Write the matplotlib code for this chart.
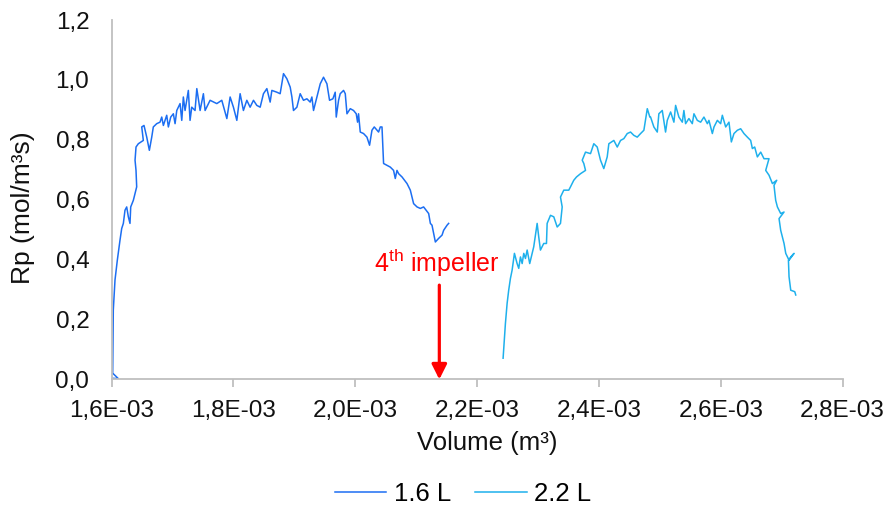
import matplotlib.pyplot as plt
import numpy as np
from matplotlib.ticker import FuncFormatter, MultipleLocator

plt.rcParams['font.family'] = ['Liberation Sans', 'DejaVu Sans']
plt.rcParams['mathtext.fontset'] = 'custom'
plt.rcParams['mathtext.rm'] = 'Liberation Sans'

# volumes in 1E-03 m3, rates in mol/m3s
vol_16 = [1.6000, 1.6110, 1.6018, 1.6028, 1.6056, 1.6094, 1.6138, 1.6166, 1.6193, 1.6220,
          1.6248, 1.6275, 1.6302, 1.6314, 1.6357, 1.6385, 1.6412, 1.6401, 1.6385, 1.6401,
          1.6439, 1.6521, 1.6495, 1.6532, 1.6577, 1.6620, 1.6659, 1.6685, 1.6741, 1.6795,
          1.6823, 1.6850, 1.6905, 1.6932, 1.6971, 1.7014, 1.7042, 1.7070, 1.7124, 1.7152,
          1.7178, 1.7206, 1.7260, 1.7288, 1.7316, 1.7370, 1.7399, 1.7453, 1.7507, 1.7535,
          1.7617, 1.7727, 1.7809, 1.7892, 1.7946, 1.8000, 1.8056, 1.8110, 1.8164, 1.8220,
          1.8274, 1.8329, 1.8384, 1.8439, 1.8493, 1.8549, 1.8603, 1.8631, 1.8713, 1.8767,
          1.8822, 1.8877, 1.8932, 1.8960, 1.8986, 1.9042, 1.9096, 1.9150, 1.9206, 1.9260,
          1.9288, 1.9315, 1.9371, 1.9425, 1.9479, 1.9535, 1.9578, 1.9633, 1.9671, 1.9688,
          1.9726, 1.9753, 1.9808, 1.9836, 1.9864, 1.9918, 1.9972, 2.0016, 2.0038, 2.0054,
          2.0082, 2.0136, 2.0192, 2.0235, 2.0274, 2.0312, 2.0357, 2.0383, 2.0411, 2.0439,
          2.0465, 2.0521, 2.0575, 2.0629, 2.0657, 2.0685, 2.0712, 2.0768, 2.0850, 2.0904,
          2.0932, 2.0958, 2.1014, 2.1068, 2.1122, 2.1205, 2.1233, 2.1260, 2.1287, 2.1315,
          2.1369, 2.1425, 2.1451, 2.1507, 2.1533]
rp_16 = [0.004, 0.003, 0.021, 0.232, 0.332, 0.398, 0.465, 0.504, 0.521, 0.565,
         0.576, 0.543, 0.521, 0.576, 0.598, 0.621, 0.643, 0.698, 0.732, 0.776,
         0.787, 0.798, 0.843, 0.848, 0.809, 0.765, 0.809, 0.843, 0.854, 0.859,
         0.876, 0.848, 0.882, 0.843, 0.876, 0.887, 0.854, 0.898, 0.921, 0.865,
         0.943, 0.898, 0.965, 0.865, 0.909, 0.898, 0.971, 0.898, 0.954, 0.898,
         0.932, 0.921, 0.932, 0.871, 0.943, 0.909, 0.865, 0.954, 0.898, 0.932,
         0.909, 0.932, 0.915, 0.909, 0.954, 0.971, 0.926, 0.965, 0.959, 0.954,
         1.021, 1.004, 0.976, 0.943, 0.898, 0.909, 0.954, 0.932, 0.937, 0.926,
         0.943, 0.898, 0.943, 0.987, 1.009, 0.987, 0.932, 0.937, 0.959, 0.876,
         0.932, 0.954, 0.965, 0.954, 0.887, 0.904, 0.898, 0.887, 0.859, 0.887,
         0.826, 0.821, 0.809, 0.782, 0.832, 0.843, 0.832, 0.826, 0.843, 0.843,
         0.721, 0.715, 0.709, 0.698, 0.671, 0.698, 0.687, 0.676, 0.654, 0.632,
         0.609, 0.587, 0.576, 0.571, 0.576, 0.554, 0.521, 0.515, 0.487, 0.459,
         0.471, 0.482, 0.498, 0.515, 0.521]

vol_22 = [2.2427, 2.2465, 2.2493, 2.2519, 2.2547, 2.2575, 2.2613, 2.2657, 2.2684, 2.2712,
          2.2740, 2.2766, 2.2794, 2.2822, 2.2864, 2.2904, 2.2930, 2.2986, 2.3012, 2.3040,
          2.3094, 2.3139, 2.3150, 2.3205, 2.3259, 2.3315, 2.3369, 2.3397, 2.3369, 2.3423,
          2.3505, 2.3533, 2.3587, 2.3632, 2.3698, 2.3780, 2.3752, 2.3726, 2.3780, 2.3862,
          2.3916, 2.3972, 2.4026, 2.4080, 2.4136, 2.4163, 2.4245, 2.4301, 2.4355, 2.4409,
          2.4465, 2.4519, 2.4573, 2.4629, 2.4684, 2.4738, 2.4794, 2.4836,
          2.4848, 2.4902, 2.4958, 2.4984, 2.5040, 2.5094, 2.5122, 2.5177, 2.5231, 2.5259,
          2.5313, 2.5369, 2.5395, 2.5423, 2.5477, 2.5533, 2.5560, 2.5615, 2.5670, 2.5724,
          2.5780, 2.5806, 2.5862, 2.5889, 2.5944, 2.5998, 2.6026, 2.6081, 2.6135, 2.6174,
          2.6217, 2.6273, 2.6327, 2.6381, 2.6437, 2.6491, 2.6519, 2.6557, 2.6601, 2.6656,
          2.6710, 2.6792, 2.6738, 2.6792, 2.6848, 2.6919, 2.6874, 2.6902, 2.6930, 2.6984,
          2.7039, 2.6957, 2.6984, 2.7039, 2.7067, 2.7121, 2.7203, 2.7149, 2.7111, 2.7121,
          2.7149, 2.7215, 2.7231]
rp_22 = [0.071, 0.187, 0.254, 0.298, 0.337, 0.365, 0.421, 0.387, 0.371, 0.409,
         0.387, 0.421, 0.404, 0.432, 0.387, 0.421, 0.443, 0.521, 0.476, 0.432,
         0.454, 0.454, 0.521, 0.548, 0.543, 0.509, 0.521, 0.576, 0.609, 0.632,
         0.632, 0.643, 0.665, 0.676, 0.687, 0.698, 0.721, 0.732, 0.759, 0.754,
         0.787, 0.776, 0.732, 0.704, 0.743, 0.787, 0.798, 0.776, 0.798, 0.804,
         0.821, 0.826, 0.815, 0.809, 0.821, 0.832, 0.904, 0.876,
         0.876, 0.843, 0.826, 0.887, 0.898, 0.826, 0.865, 0.893, 0.859, 0.915,
         0.876, 0.859, 0.898, 0.854, 0.871, 0.854, 0.887, 0.865, 0.859, 0.876,
         0.854, 0.865, 0.821, 0.843, 0.865, 0.854, 0.882, 0.843, 0.859, 0.793,
         0.821, 0.832, 0.837, 0.821, 0.809, 0.798, 0.771, 0.776, 0.743, 0.759,
         0.737, 0.737, 0.698, 0.682, 0.654, 0.665, 0.648, 0.598, 0.576, 0.554,
         0.559, 0.537, 0.498, 0.454, 0.421, 0.398, 0.421, 0.409, 0.398, 0.343,
         0.298, 0.293, 0.282]

impeller_vol = 2.138e-3

fig = plt.figure(figsize=(8.92, 5.08), dpi=100)
ax = fig.add_axes([0.1251, 0.2530, 0.8195, 0.7076])

ax.plot(np.array(vol_16) * 1e-3, rp_16, color='#1C6EF2', lw=1.1, label='1.6 L')
ax.plot(np.array(vol_22) * 1e-3, rp_22, color='#1EB0EC', lw=1.1, label='2.2 L')

ax.set_xlim(1.6e-3, 2.8e-3)
ax.set_ylim(0, 1.2)
ax.xaxis.set_major_locator(MultipleLocator(0.2e-3))
ax.yaxis.set_major_locator(MultipleLocator(0.2))
ax.xaxis.set_major_formatter(FuncFormatter(lambda v, p: f"{v:.1E}".replace('.', ',')))
ax.yaxis.set_major_formatter(FuncFormatter(lambda v, p: f"{v:.1f}".replace('.', ',')))

for s in ['top', 'right']:
    ax.spines[s].set_visible(False)
for s in ['left', 'bottom']:
    ax.spines[s].set_color('#BFBFBF')
    ax.spines[s].set_linewidth(1.3)
ax.tick_params(axis='x', direction='out', length=5.5, color='#BFBFBF', width=1.3,
               labelsize=17.5, pad=9, labelcolor='#111111')
ax.tick_params(axis='y', length=0, labelsize=17.5, pad=16, labelcolor='#111111')

ax.set_xlabel('Volume (m³)', fontsize=18.5, color='#111111')
ax.set_ylabel('Rp (mol/m³s)', fontsize=19, color='#111111')
ax.xaxis.set_label_coords(0.5136, -0.143)
ax.yaxis.set_label_coords(-0.105, 0.478)

ax.annotate('', xy=(impeller_vol, 0.0), xytext=(impeller_vol, 0.315),
            arrowprops=dict(arrowstyle='-|>,head_length=0.9,head_width=0.45',
                            color='#FF0000', lw=2.3, shrinkA=0, shrinkB=0))
ax.text(2.1345e-3, 0.388, '4$^{\\mathrm{th}}$ impeller', color='#FF0000',
        fontsize=18, ha='center', va='center')

fig.legend(loc='center', bbox_to_anchor=(0.519, 0.0266), ncol=2, frameon=False,
           fontsize=18.5, handlelength=2.0, columnspacing=0.95, handletextpad=0.28)

fig.savefig('out.png', dpi=100)
